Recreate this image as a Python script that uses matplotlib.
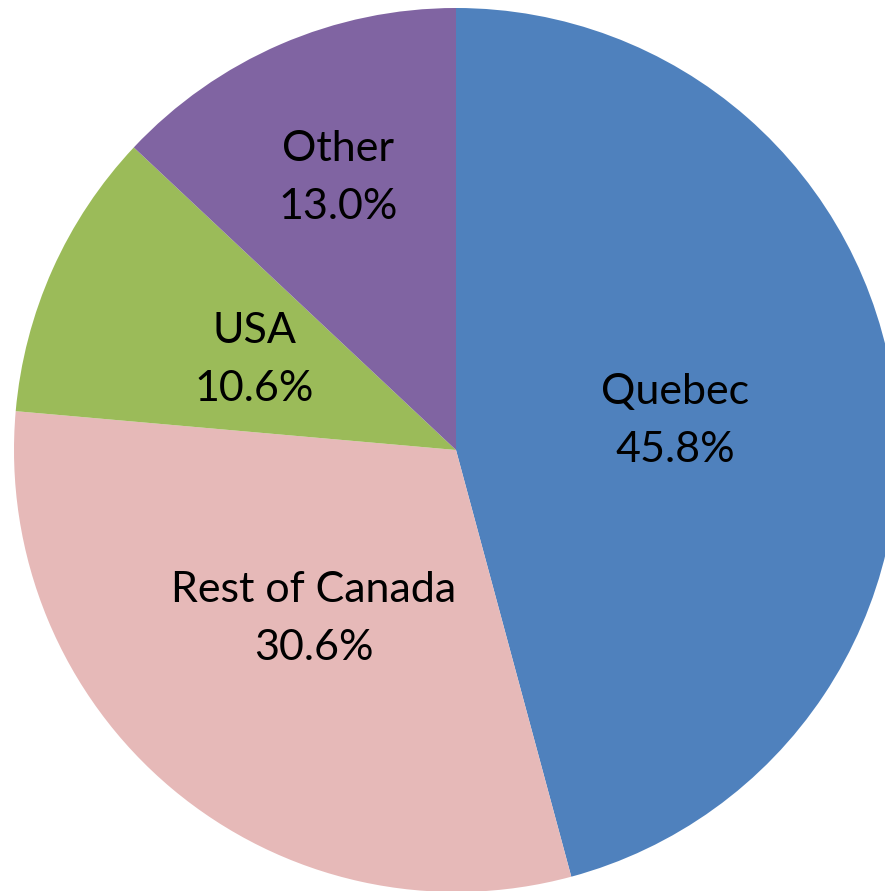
import matplotlib
matplotlib.use('Agg')
import matplotlib.pyplot as plt
import numpy as np

# Share by region
regions = ['Quebec', 'Rest of Canada', 'USA', 'Other']
shares = [45.8, 30.6, 10.6, 13.0]
colors = ['#4F81BD', '#E6B9B8', '#9BBB59', '#8064A2']

plt.rcParams['font.family'] = ['Lato', 'DejaVu Sans']

fig = plt.figure(figsize=(8.85, 8.91), dpi=100)
ax = fig.add_axes([0, 0, 1, 1])

wedges, _ = ax.pie(shares, colors=colors, startangle=90, counterclock=False,
                   radius=1.0, wedgeprops=dict(linewidth=0))

# label distance (fraction of radius) per wedge
label_r = [0.50, 0.50, 0.50, 0.67]
for w, name, val, r in zip(wedges, regions, shares, label_r):
    ang = np.deg2rad((w.theta1 + w.theta2) / 2)
    ax.text(r * np.cos(ang), r * np.sin(ang), f'{name}\n{val:.1f}%',
            ha='center', va='center', fontsize=31, color='black',
            linespacing=1.65)

ax.set_xlim(-456 / 442, (885 - 456) / 442)
ax.set_ylim(-(891 - 450) / 442, 450 / 442)
ax.set_aspect('equal')
ax.axis('off')

fig.savefig('out.png', dpi=100)
